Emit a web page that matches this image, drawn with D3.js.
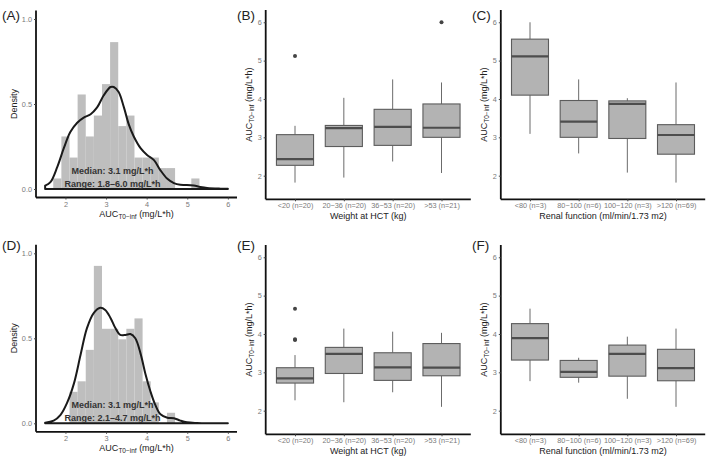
<!DOCTYPE html>
<html>
<head>
<meta charset="utf-8">
<script src="https://cdn.jsdelivr.net/npm/d3@7"></script>
<style>
  html, body { margin: 0; padding: 0; background: #fff; }
  svg { display: block; font-family: "Liberation Sans", Arial, Helvetica, sans-serif; }
</style>
</head>
<body>
<svg id="chart" width="709" height="460"></svg>
<script>
// ---------------- DATA ----------------
const binWidth = 0.2;
// Histogram (A): bin starts and densities
const histABins = [1.7, 1.9, 2.1, 2.3, 2.5, 2.7, 2.9, 3.1, 3.3, 3.5, 3.7, 3.9, 4.1, 4.3, 4.5, 4.7, 4.9, 5.1];
const histADens = [0.062, 0.309, 0.185, 0.556, 0.309, 0.432, 0.617, 0.864, 0.370, 0.432, 0.185, 0.185, 0.185, 0.123, 0.123, 0, 0, 0.062];
// Density curve (A)
const densA = [[1.5,0.02],[1.63,0.04],[1.8,0.13],[1.96,0.24],[2.12,0.335],[2.29,0.39],[2.45,0.42],[2.62,0.44],[2.78,0.48],[2.94,0.55],[3.11,0.60],[3.19,0.60],[3.31,0.57],[3.44,0.48],[3.56,0.38],[3.68,0.31],[3.85,0.24],[4.01,0.20],[4.18,0.17],[4.34,0.11],[4.51,0.06],[4.67,0.035],[4.83,0.025],[4.99,0.024],[5.16,0.02],[5.32,0.012],[5.49,0.006],[5.82,0.002],[6.0,0.001]];
// Histogram (D)
const histDBins = [2.1, 2.3, 2.5, 2.7, 2.9, 3.1, 3.3, 3.5, 3.7, 3.9, 4.1, 4.3, 4.5];
const histDDens = [0.185, 0.247, 0.432, 0.926, 0.556, 0.556, 0.494, 0.556, 0.617, 0.247, 0.123, 0, 0.062];
// Density curve (D)
const densD = [[1.5,0.004],[1.71,0.016],[1.88,0.05],[2.04,0.12],[2.21,0.235],[2.37,0.40],[2.53,0.56],[2.70,0.65],[2.86,0.68],[2.98,0.667],[3.11,0.62],[3.23,0.56],[3.35,0.52],[3.48,0.52],[3.60,0.525],[3.72,0.50],[3.85,0.41],[3.97,0.29],[4.09,0.19],[4.21,0.11],[4.34,0.053],[4.51,0.033],[4.67,0.03],[4.83,0.016],[4.99,0.006],[5.24,0.002],[6.0,0]];
const labelsA = ["Median: 3.1 mg/L*h", "Range: 1.8\u20136.0 mg/L*h"];
const labelsD = ["Median: 3.1 mg/L*h", "Range: 2.1\u20134.7 mg/L*h"];

const histXTicks = [2, 3, 4, 5, 6];
const histYTicks = [0, 0.5, 1.0];
const boxYTicks = [2, 3, 4, 5, 6];

const weightCats = ["<20 (n=20)", "20\u221236 (n=20)", "36\u221253 (n=20)", ">53 (n=21)"];
const renalCats = ["<80 (n=3)", "80\u2212100 (n=6)", "100\u2212120 (n=3)", ">120 (n=69)"];

// Box stats: [lower whisker, Q1, median, Q3, upper whisker]
const statsB = [[1.82,2.27,2.43,3.07,3.30],[1.95,2.76,3.24,3.31,4.03],[2.37,2.79,3.27,3.73,4.51],[2.07,3.00,3.25,3.87,4.43]];
const outB = [[5.12],[],[],[6.0]];
const statsC = [[3.09,4.10,5.11,5.56,6.00],[2.58,3.00,3.41,3.96,4.51],[2.08,2.97,3.87,3.95,4.02],[1.82,2.56,3.06,3.33,4.43]];
const outC = [[],[],[],[]];
const statsE = [[2.27,2.72,2.84,3.12,3.45],[2.22,2.97,3.48,3.65,4.14],[2.48,2.79,3.13,3.51,4.06],[2.10,2.91,3.12,3.75,4.03]];
const outE = [[4.66,3.86,3.84],[],[],[]];
const statsF = [[2.77,3.32,3.89,4.27,4.66],[2.73,2.87,3.01,3.31,3.38],[2.31,2.90,3.48,3.71,3.93],[2.10,2.78,3.11,3.60,4.14]];
const outF = [[],[],[],[]];

// ---------------- DRAWING ----------------
const svg = d3.select("#chart");
const tickCol = "#7a7a7a";
const axisCol = "#111";

function aucTitle(sel, size, subSize) {
  sel.append("tspan").text("AUC");
  sel.append("tspan").attr("font-size", subSize).attr("dy", 2).text("T0\u2212inf");
  sel.append("tspan").attr("dy", -2).text(" (mg/L*h)");
}

function panelLabel(txt, x, y) {
  svg.append("text").attr("x", x).attr("y", y).attr("font-size", 13.5).attr("fill", "#222").text(txt);
}

function drawHist(offY, bins, dens, curve, labels) {
  const g = svg.append("g").attr("transform", `translate(0,${offY})`);
  const x = d3.scaleLinear().domain([1.275, 6.225]).range([36, 237]);
  const y = d3.scaleLinear().domain([-0.05, 1.05]).range([197.5, 10.5]);

  g.selectAll("rect.bar").data(bins.map((b, i) => ({b, d: dens[i]})).filter(o => o.d > 0))
    .join("rect").attr("class", "bar")
    .attr("x", o => x(o.b)).attr("width", o => x(o.b + binWidth) - x(o.b))
    .attr("y", o => y(o.d)).attr("height", o => y(0) - y(o.d))
    .attr("fill", "#bebebe");

  const area = d3.area().x(d => x(d[0])).y0(y(0)).y1(d => y(d[1])).curve(d3.curveCatmullRom.alpha(0.5));
  g.append("path").attr("d", area(curve)).attr("fill", "none").attr("stroke", "#1a1a1a")
    .attr("stroke-width", 2).attr("stroke-linejoin", "round");

  g.append("text").attr("x", x(3.16)).attr("y", y(0.109)).attr("dy", "0.35em")
    .attr("text-anchor", "middle").attr("font-size", 9).attr("font-weight", "bold").attr("fill", "#333").text(labels[0]);
  g.append("text").attr("x", x(3.16)).attr("y", y(0.031)).attr("dy", "0.35em")
    .attr("text-anchor", "middle").attr("font-size", 9).attr("font-weight", "bold").attr("fill", "#333").text(labels[1]);

  // axes
  const xa = g.append("g").attr("transform", `translate(0,${y.range()[0]})`)
    .call(d3.axisBottom(x).tickValues(histXTicks).tickSize(2).tickPadding(2).tickFormat(d3.format("d")));
  const ya = g.append("g").attr("transform", `translate(${x.range()[0]},0)`)
    .call(d3.axisLeft(y).tickValues(histYTicks).tickSize(2).tickPadding(2).tickFormat(d3.format(".1f")));
  [xa, ya].forEach(a => {
    a.select(".domain").attr("stroke", axisCol).attr("stroke-width", 1.8);
    a.selectAll(".tick line").attr("stroke", "#444");
    a.selectAll(".tick text").attr("fill", tickCol).attr("font-size", 7.3).attr("font-family", null);
  });
  xa.select(".domain").attr("d", `M${x.range()[0]},0H${x.range()[1]}`);
  ya.select(".domain").attr("d", `M0,${y.range()[0]}V${y.range()[1]}`);

  const xt = g.append("text").attr("x", (x.range()[0] + x.range()[1]) / 2).attr("y", 216.5)
    .attr("text-anchor", "middle").attr("font-size", 9).attr("fill", "#222");
  aucTitle(xt, 9, 6.5);
  g.append("text").attr("transform", `translate(17.2,${(y.range()[0] + y.range()[1]) / 2}) rotate(-90)`)
    .attr("text-anchor", "middle").attr("font-size", 9).attr("fill", "#222").text("Density");
}

function drawBox(offY, x0, x1, cats, stats, outs, xTitle) {
  const g = svg.append("g").attr("transform", `translate(0,${offY})`);
  const x = d3.scalePoint().domain(cats).range([x0, x1]).padding(0.6);
  const y = d3.scaleLinear().domain([1.384, 6.32]).range([199.3, 10]);
  const bw = x.step() * 0.76;

  cats.forEach((c, i) => {
    const s = stats[i];
    const cx = x(c);
    g.append("line").attr("x1", cx).attr("x2", cx).attr("y1", y(s[3])).attr("y2", y(s[4]))
      .attr("stroke", "#6b6b6b").attr("stroke-width", 1);
    g.append("line").attr("x1", cx).attr("x2", cx).attr("y1", y(s[1])).attr("y2", y(s[0]))
      .attr("stroke", "#6b6b6b").attr("stroke-width", 1);
    g.append("rect").attr("x", cx - bw / 2).attr("width", bw)
      .attr("y", y(s[3])).attr("height", y(s[1]) - y(s[3]))
      .attr("fill", "#b3b3b3").attr("stroke", "#5c5c5c").attr("stroke-width", 1.1);
    g.append("line").attr("x1", cx - bw / 2).attr("x2", cx + bw / 2).attr("y1", y(s[2])).attr("y2", y(s[2]))
      .attr("stroke", "#4d4d4d").attr("stroke-width", 2.2);
    outs[i].forEach(v => {
      g.append("circle").attr("cx", cx).attr("cy", y(v)).attr("r", 2).attr("fill", "#444");
    });
  });

  const xa = g.append("g").attr("transform", `translate(0,${y.range()[0]})`)
    .call(d3.axisBottom(x).tickSize(2).tickPadding(2));
  const ya = g.append("g").attr("transform", `translate(${x0},0)`)
    .call(d3.axisLeft(y).tickValues(boxYTicks).tickSize(2).tickPadding(2).tickFormat(d3.format("d")));
  [xa, ya].forEach(a => {
    a.select(".domain").attr("stroke", axisCol).attr("stroke-width", 1.8);
    a.selectAll(".tick line").attr("stroke", "#444");
    a.selectAll(".tick text").attr("fill", tickCol).attr("font-size", 7.3).attr("font-family", null);
  });
  xa.select(".domain").attr("d", `M${x0},0H${x1}`);
  ya.select(".domain").attr("d", `M0,${y.range()[0]}V${y.range()[1]}`);

  g.append("text").attr("x", (x0 + x1) / 2).attr("y", 219).attr("text-anchor", "middle")
    .attr("font-size", 9).attr("fill", "#222").text(xTitle);
  const yt = g.append("text").attr("transform", `translate(${x0 - 14},${(y.range()[0] + y.range()[1]) / 2}) rotate(-90)`)
    .attr("text-anchor", "middle").attr("font-size", 9).attr("fill", "#222");
  aucTitle(yt, 9, 6.5);
}

drawHist(0, histABins, histADens, densA, labelsA);
drawHist(234.3, histDBins, histDDens, densD, labelsD);
drawBox(0, 265.7, 470.8, weightCats, statsB, outB, "Weight at HCT (kg)");
drawBox(0, 500.8, 705.2, renalCats, statsC, outC, "Renal function (ml/min/1.73 m2)");
drawBox(235, 265.7, 470.8, weightCats, statsE, outE, "Weight at HCT (kg)");
drawBox(235, 500.8, 705.2, renalCats, statsF, outF, "Renal function (ml/min/1.73 m2)");

panelLabel("(A)", 2, 20);
panelLabel("(B)", 237, 20);
panelLabel("(C)", 472, 20);
panelLabel("(D)", 2, 249.5);
panelLabel("(E)", 237, 249.5);
panelLabel("(F)", 472, 249.5);
</script>
</body>
</html>
